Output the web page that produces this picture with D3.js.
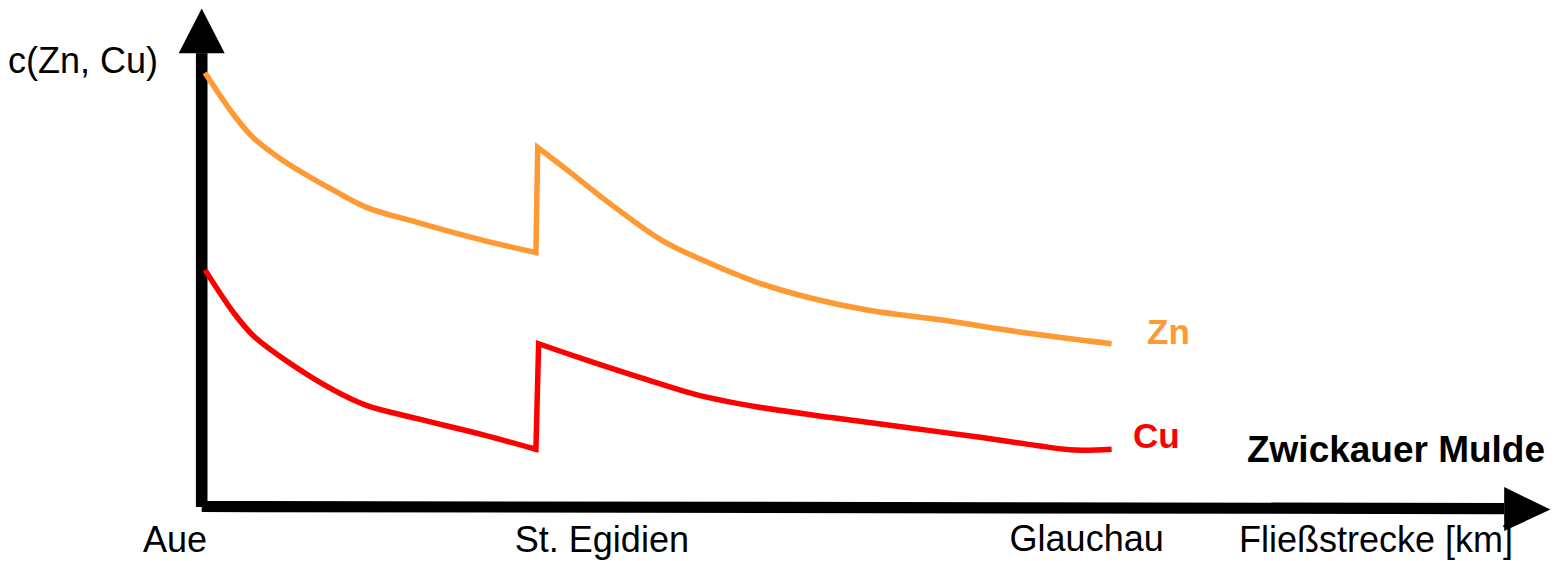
<!DOCTYPE html>
<html>
<head>
<meta charset="utf-8">
<script src="https://cdn.jsdelivr.net/npm/d3@7"></script>
<style>
  html, body { margin: 0; padding: 0; background: #fff; }
  svg { display: block; }
  text { font-family: "Liberation Sans", Arial, sans-serif; }
</style>
</head>
<body>
<script>
// ---- data (distance along river: Aue = 0, Glauchau = 100; concentration in relative units) ----
const stations = ["Aue", "St. Egidien", "Glauchau"];
const stationKm = [0, 36.6, 100];

// Zn: upper reach (Aue -> St. Egidien), then after the jump (St. Egidien -> Glauchau)
const znUpperX = [0, 3.1, 5.3, 8.6, 14.2, 17.8, 23.3, 30.7, 36.5];
const znUpperY = [100, 90.5, 85.1, 79.8, 72.9, 69.0, 65.6, 61.4, 58.6];
const znLowerX = [36.7, 40.0, 44.2, 50.4, 54.5, 60.8, 67.0, 73.2, 81.5, 89.8, 100];
const znLowerY = [82.8, 77.5, 70.6, 61.4, 57.2, 51.8, 48.0, 45.3, 43.0, 40.3, 37.6];

// Cu
const cuUpperX = [0, 3.1, 5.3, 8.6, 14.2, 17.8, 23.3, 30.7, 36.5];
const cuUpperY = [54.6, 44.9, 39.5, 34.2, 26.9, 23.4, 20.4, 16.6, 13.3];
const cuLowerX = [36.8, 42.1, 48.3, 54.5, 60.8, 69.1, 77.4, 85.7, 91.9, 96.0, 100];
const cuLowerY = [37.6, 33.8, 29.6, 25.7, 23.1, 20.6, 18.3, 16.0, 14.1, 13.1, 13.3];

const seriesNames = ["Zn", "Cu"];
const seriesColors = ["#FF9933", "#FF0000"];

const yAxisLabel = "c(Zn, Cu)";
const xAxisLabel = "Fließstrecke [km]";
const riverName = "Zwickauer Mulde";

// ---- drawing ----
const W = 1560, H = 561;
const svg = d3.select("body").append("svg").attr("width", W).attr("height", H);

const x = d3.scaleLinear().domain([0, 100]).range([205, 1111.6]);
const y = d3.scaleLinear().domain([0, 100]).range([507, 72.7]);

// Y axis (thick shaft + arrowhead)
const yAxisX = x(0) - 3.3;
svg.append("rect")
  .attr("x", yAxisX - 5.8).attr("y", y(104.5))
  .attr("width", 11.6).attr("height", y(0) - y(104.5))
  .attr("fill", "#000");
svg.append("path")
  .attr("d", `M${yAxisX},${y(114.8)} L${yAxisX + 23},${y(104.5)} L${yAxisX - 23},${y(104.5)} Z`)
  .attr("fill", "#000");

// X axis (thick shaft, slightly sloping, + arrowhead)
const xa0 = yAxisX, xa1 = x(143.3), xTip = x(148.4);
const yl = 506.5, yr = 508.6, half = 5.6;
svg.append("path")
  .attr("d", `M${xa0},${yl - half} L${xa1},${yr - half} L${xa1},${yr + half} L${xa0},${yl + half} Z`)
  .attr("fill", "#000");
svg.append("path")
  .attr("d", `M${xa1},${yr - 21.5} L${xTip},${yr + 1} L${xa1},${yr + 22.5} Z`)
  .attr("fill", "#000");

// Curves
const line = d3.line().x(d => x(d[0])).y(d => y(d[1])).curve(d3.curveCatmullRom.alpha(0.5));
function pathFor(ux, uy, lx, ly) {
  const a = line(ux.map((v, i) => [v, uy[i]]));
  const b = line(lx.map((v, i) => [v, ly[i]]));
  return a + b.replace(/^M/, "L");
}
const paths = [
  pathFor(znUpperX, znUpperY, znLowerX, znLowerY),
  pathFor(cuUpperX, cuUpperY, cuLowerX, cuLowerY)
];
paths.forEach((d, i) => {
  svg.append("path")
    .attr("d", d)
    .attr("fill", "none")
    .attr("stroke", seriesColors[i])
    .attr("stroke-width", 5.5)
    .attr("stroke-linejoin", "miter");
});

// Series labels
svg.append("text").attr("x", x(100) + 35.5).attr("y", y(37.6))
  .attr("font-size", 35).attr("font-weight", "bold").attr("fill", seriesColors[0])
  .text(seriesNames[0]);
svg.append("text").attr("x", x(100) + 21.5).attr("y", 448)
  .attr("font-size", 35).attr("font-weight", "bold").attr("fill", seriesColors[1])
  .text(seriesNames[1]);

// River name
svg.append("text").attr("x", 1247).attr("y", 462)
  .attr("font-size", 36).attr("font-weight", "bold").attr("fill", "#000")
  .attr("textLength", 298).attr("lengthAdjust", "spacingAndGlyphs")
  .text(riverName);

// Station labels
const stationDx = [-62, -22, -102];
const stationBase = [552, 552, 551];
stations.forEach((s, i) => {
  svg.append("text")
    .attr("x", x(stationKm[i]) + stationDx[i])
    .attr("y", stationBase[i])
    .attr("font-size", 36).attr("fill", "#000")
    .text(s);
});

// Axis titles
svg.append("text").attr("x", 8).attr("y", 73)
  .attr("font-size", 36).attr("fill", "#000").text(yAxisLabel);
svg.append("text").attr("x", 1239).attr("y", 552)
  .attr("font-size", 36).attr("fill", "#000").text(xAxisLabel);
</script>
</body>
</html>
